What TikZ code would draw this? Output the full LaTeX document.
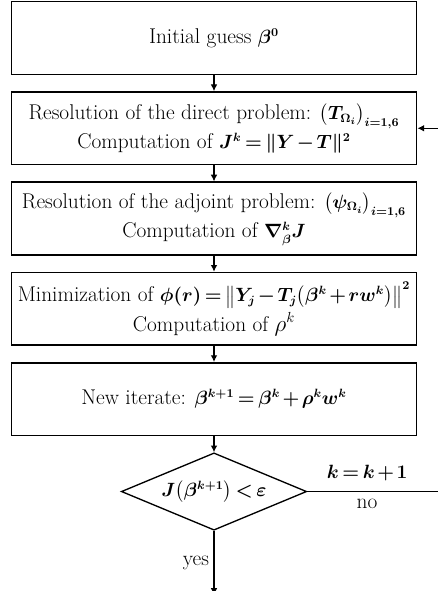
\documentclass[tikz,border=0pt]{standalone}
\usepackage{amsmath,amssymb}
\usepackage{bm}
\usetikzlibrary{arrows.meta, positioning, shapes.geometric}

% formulas are set smaller and tighter than the text
\newcommand{\eqsz}[1]{{\fontsize{13.5}{16}\selectfont\medmuskip=2mu\thickmuskip=3mu$#1$}}

\begin{document}
\begin{tikzpicture}[
    x=0.75pt, y=-0.75pt,
    font=\fontsize{16}{18}\selectfont\boldmath,
    box/.style={draw, line width=1.2pt, align=center, minimum width=304pt,
                minimum height=54.5pt, inner sep=2pt},
    test/.style={draw, line width=1pt, diamond, aspect=2.4, minimum width=139pt,
                 minimum height=58pt, inner sep=0pt},
    arr/.style={-{Latex[length=5pt,width=5pt]}, line width=0.8pt},
    node distance=12pt,
]
\useasboundingbox (0,0) rectangle (437,591);
% steps of the iterative method
\node[box] (init) at (214,38) {Initial guess \eqsz{\beta^0}};
\node[box, below=of init] (direct) {Resolution of the direct problem: \eqsz{\bigl(T_{\Omega_i}\bigr)_{i=1,6}}\\[2pt]
    Computation of \eqsz{J^k=\|Y-T\|^2}};
\node[box, below=of direct] (adjoint) {Resolution of the adjoint problem: \eqsz{\bigl(\psi_{\Omega_i}\bigr)_{i=1,6}}\\[2pt]
    Computation of \eqsz{\nabla^k_\beta J}};
\node[box, below=of adjoint] (minim) {Minimization of \eqsz{\phi(r)=\bigl\|Y_j-T_j\bigl(\beta^k+rw^k\bigr)\bigr\|^2}\\[2pt]
    Computation of {\unboldmath$\rho^k$}};
\node[box, below=of minim] (newit) {New iterate: \eqsz{\beta^{k+1}=\beta^k+\rho^k w^k}};
\draw[arr] (init) -- (direct);
\draw[arr] (direct) -- (adjoint);
\draw[arr] (adjoint) -- (minim);
\draw[arr] (minim) -- (newit);

% stopping test
\node[test, below=12pt of newit] (stop) {\eqsz{J\bigl(\beta^{k+1}\bigr)<\varepsilon}};
\coordinate[below=48pt of stop] (out);
\coordinate (edge) at (440,0);
\coordinate (loop) at (stop.east -| edge);
\draw[arr] (newit) -- (stop);
\draw[arr] (stop) -- node[midway, left] {yes} (out);
\draw[arr] (stop.east) -- node[pos=0.45, above=4pt] {\eqsz{k=k+1}} node[pos=0.45, below=2pt] {no}
    (loop) |- (direct.east);
\end{tikzpicture}
\end{document}
